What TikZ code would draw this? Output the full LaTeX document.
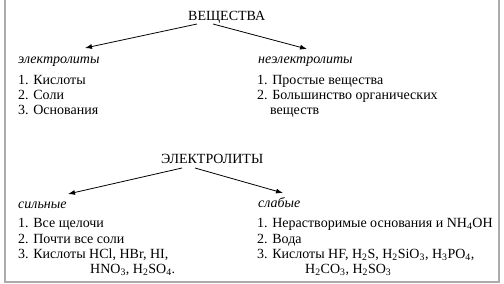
\documentclass[tikz,border=0pt]{standalone}
\usepackage{fontspec}
\setmainfont{Liberation Serif}
\usetikzlibrary{arrows.meta}
\begin{document}
\begin{tikzpicture}[x=1pt,y=-1pt,
  txt/.style={anchor=base west,inner sep=0pt,font=\fontsize{14}{15.5}\selectfont},
  head/.style={txt,font=\fontsize{14}{15.5}\selectfont\itshape},
  arr/.style={-{Latex[length=7pt,width=5pt]},line width=0.8pt},
  frame/.style={draw=black!33,line width=1.6pt}]
\useasboundingbox (0,0) rectangle (504,284);
\draw[frame] (5,0) -- (5,282) -- (499,282) -- (499,0);
% top section
\node[txt] (top) at (188,20) {ВЕЩЕСТВА};
\node[head] (el) at (18,63) {электролиты};
\node[txt] (k1) at (18,84) {1. Кислоты};
\node[txt] (k2) at (18,99) {2. Соли};
\node[txt] (k3) at (18,114) {3. Основания};
\node[head] (nel) at (258,63) {неэлектролиты};
\node[txt] (p1) at (257,84) {1. Простые вещества};
\node[txt] (p2) at (257,99) {2. Большинство органических};
\node[txt] (p3) at (270,114) {веществ};
\coordinate (a1s) at (197,24);
\coordinate (a1e) at (85,48);
\coordinate (a2s) at (213,24);
\coordinate (a2e) at (307,49);
\draw[arr] (a1s) -- (a1e);
\draw[arr] (a2s) -- (a2e);
% bottom section
\node[txt] (mid) at (161,163) {ЭЛЕКТРОЛИТЫ};
\node[head] (st) at (18,208) {сильные};
\node[txt] (s1) at (18,227) {1. Все щелочи};
\node[txt] (s2) at (18,243) {2. Почти все соли};
\node[txt] (s3) at (18,258) {3. Кислоты HCl, HBr, HI,};
\node[txt] (s4) at (90,273) {HNO\textsubscript{3}, H\textsubscript{2}SO\textsubscript{4}.};
\node[head] (sl) at (258,207) {слабые};
\node[txt] (w1) at (257,227) {1. Нерастворимые основания и NH\textsubscript{4}OH};
\node[txt] (w2) at (257,243) {2. Вода};
\node[txt] (w3) at (257,258) {3. Кислоты HF, H\textsubscript{2}S, H\textsubscript{2}SiO\textsubscript{3}, H\textsubscript{3}PO\textsubscript{4},};
\node[txt] (w4) at (305,273) {H\textsubscript{2}CO\textsubscript{3}, H\textsubscript{2}SO\textsubscript{3}};
\coordinate (b1s) at (182,168);
\coordinate (b1e) at (68,194);
\coordinate (b2s) at (195,168);
\coordinate (b2e) at (283,193);
\draw[arr] (b1s) -- (b1e);
\draw[arr] (b2s) -- (b2e);
\end{tikzpicture}
\end{document}
